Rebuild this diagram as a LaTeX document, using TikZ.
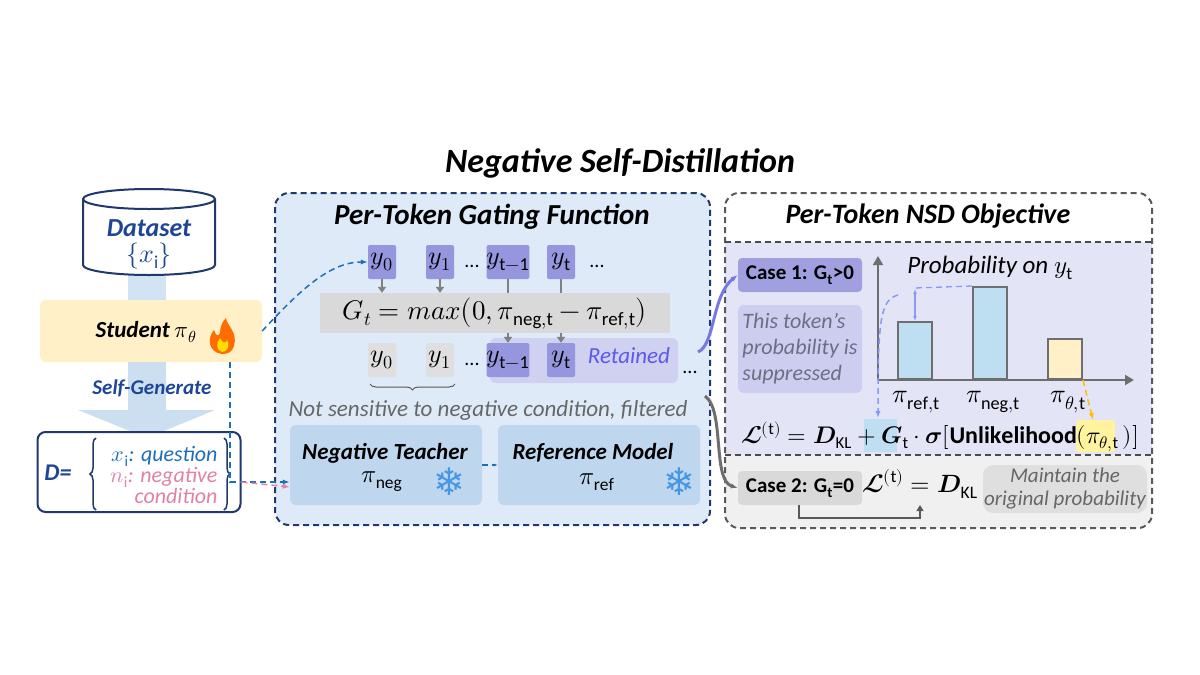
\documentclass[tikz,border=0pt]{standalone}
\usepackage{fontspec}
\usepackage{unicode-math}
\setmainfont{Carlito}
\setmathfont{Latin Modern Math}
\newfontfamily\symfont{DejaVu Sans}
\usetikzlibrary{calc, shapes.geometric, positioning, arrows.meta, decorations.pathreplacing}
\definecolor{DeepNavy}{RGB}{31, 56, 110}
\definecolor{TextBlue}{RGB}{30, 70, 150}
\definecolor{PanelBlue}{RGB}{222, 234, 247}
\definecolor{BoxBlue}{RGB}{190, 215, 238}
\definecolor{TokPurple}{RGB}{150, 150, 222}
\definecolor{PaleLilac}{RGB}{228, 228, 247}
\definecolor{SoftLilac}{RGB}{205, 205, 240}
\definecolor{ButterCream}{RGB}{255, 240, 200}
\definecolor{DashBlue}{RGB}{30, 110, 190}
\definecolor{RosePink}{RGB}{226, 130, 160}
\definecolor{BarBlue}{RGB}{190, 222, 242}
\definecolor{IceBlue}{RGB}{70, 150, 230}
\definecolor{SlateGray}{RGB}{110, 110, 110}

\tikzset{
    fs/.style={font=\fontsize{#1}{#1}\selectfont},
    bfi/.style={font=\bfseries\itshape\fontsize{#1}{#1}\selectfont},
    tok/.style={draw=none, fill=TokPurple, rounded corners=2pt, minimum width=28, minimum height=34, inner sep=0pt, fs=26},
    gtok/.style={tok, fill=gray!25},
    model/.style={fill=BoxBlue, rounded corners=6pt, minimum width=192, minimum height=80, inner sep=0pt},
    case/.style={rounded corners=4pt, minimum width=124, minimum height=34, inner sep=0pt, font=\bfseries\fontsize{21}{21}\selectfont},
    bar/.style={draw=SlateGray, line width=2pt},
    dsh/.style={dash pattern=on 6pt off 4pt},
    link/.style={-{Latex[length=7pt]}, line width=1.5pt},
}

\begin{document}
\begin{tikzpicture}[x=1pt, y=-1pt]
    \useasboundingbox (0,0) rectangle (1200,675);

    % Titulo general
    \node[bfi=34] (title) at (620,163) {Negative Self-Distillation};

    % Columna izquierda: dataset, estudiante y D
    \fill[BoxBlue!70] (128,268) rectangle (166,300);
    \draw[DeepNavy, line width=2pt, fill=white] (83,199) -- (83,265) arc[start angle=180, end angle=0, x radius=66, y radius=10]
        -- (215,199) arc[start angle=0, end angle=-180, x radius=66, y radius=10] -- cycle;
    \draw[DeepNavy, line width=2pt] (83,199) arc[start angle=180, end angle=0, x radius=66, y radius=10];
    \node[text=TextBlue, bfi=26] (dsname) at (149,228) {Dataset};
    \node[text=TextBlue, fs=26] (dsset) at (149,256) {$\{x_{\mathrm{i}}\}$};

    \node[fill=ButterCream, rounded corners=6pt, minimum width=222, minimum height=62] (student) at (151,331) {};
    \node[bfi=23] (stname) at (146,332) {Student $\pi_\theta$};
    % llama
    \fill[orange!85!red] (222,354) .. controls (208,352) and (207,338) .. (214,330)
        .. controls (216,336) and (218,337) .. (220,333) .. controls (220,326) and (223,321) .. (226,318)
        .. controls (227,326) and (238,332) .. (234,346) .. controls (232,352) and (228,354) .. (222,354) -- cycle;
    \fill[yellow!80!orange] (222,352) .. controls (216,350) and (216,343) .. (220,338)
        .. controls (222,343) and (226,344) .. (227,340) .. controls (230,345) and (228,352) .. (222,352) -- cycle;

    % flecha gruesa de auto-generacion
    \fill[BoxBlue!80] (128,362) -- (166,362) -- (166,410) -- (215,410) -- (147,438) -- (78,410) -- (128,410) -- cycle;
    \node[text=TextBlue, bfi=21] (selfgen) at (152,388) {Self-Generate};

    \node[draw=DeepNavy, line width=2pt, fill=white, rounded corners=8pt, minimum width=203, minimum height=80] (dbox) at (139,472) {};
    \node[text=TextBlue, bfi=24] (dlabel) at (58,473) {D=};
    \node[font=\itshape\fontsize{22}{21}\selectfont, align=right, inner sep=0pt] (ditems) at (164,475)
        {\textcolor{DashBlue}{$x_{\mathrm{i}}$: question}\\\textcolor{RosePink}{$n_{\mathrm{i}}$: negative}\\\textcolor{RosePink}{condition}};
    \draw[DeepNavy, line width=1.5pt, decorate, decoration={brace, amplitude=6pt}] (96,510) -- (96,438);
    \draw[DeepNavy, line width=1.5pt, decorate, decoration={brace, amplitude=6pt}] (224,438) -- (224,510);

    % Panel central: funcion de compuerta
    \draw[DeepNavy, dsh, line width=2pt, fill=PanelBlue, rounded corners=14pt] (275,193) rectangle (710,525);
    \node[bfi=29] (gtitle) at (492,217) {Per-Token Gating Function};

    \node[tok] (a0) at (382,262) {$y_0$};
    \node[tok] (a1) at (440,262) {$y_1$};
    \node[fs=20] (ad1) at (472,266) {...};
    \node[tok, minimum width=36] (a2) at (508,262) {$y_{\mathrm{t-1}}$};
    \node[tok] (a3) at (561,262) {$y_{\mathrm{t}}$};
    \node[fs=20] (ad2) at (597,266) {...};

    \node[fill=gray!30, minimum width=350, minimum height=40, inner sep=0pt, fs=27] (gate) at (495,313)
        {$G_t=max\bigl(0,\pi_{\mathrm{neg,t}}-\pi_{\mathrm{ref,t}}\bigr)$};

    \fill[TokPurple!45, rounded corners=6pt] (490,338) rectangle (678,383);
    \node[gtok] (b0) at (382,360) {$y_0$};
    \node[gtok] (b1) at (440,360) {$y_1$};
    \node[fs=20] (bd1) at (472,364) {...};
    \node[tok, minimum width=36] (b2) at (508,360) {$y_{\mathrm{t-1}}$};
    \node[tok] (b3) at (561,360) {$y_{\mathrm{t}}$};
    \node[text=TokPurple!60!blue, font=\itshape\fontsize{23}{23}\selectfont] (retained) at (629,356) {Retained};
    \node[fs=20] (bd2) at (690,372) {...};

    \foreach \n in {a0,a1}
        \draw[-{Triangle[length=6pt]}, gray, line width=1.5pt] (\n.south) -- (gate.north -| \n);
    \foreach \n/\m in {a2/b2,a3/b3} {
        \draw[gray, line width=1.5pt] (\n.south) -- (gate.north -| \n);
        \draw[-{Triangle[length=6pt]}, gray, line width=1.5pt] (gate.south -| \m) -- (\m.north);
    }
    \draw[gray!70!black, line width=1pt, decorate, decoration={brace, mirror, amplitude=6pt}] (370,384) -- (455,384);
    \node[text=gray!80!black, font=\itshape\fontsize{23}{23}\selectfont] (filtered) at (488,410) {Not sensitive to negative condition, filtered};

    \node[model] (teacher) at (386,465) {};
    \node[bfi=23] (tname) at (385,453) {Negative Teacher};
    \node[fs=25] (tpi) at (382,482) {$\pi_{\mathrm{neg}}$};
    \node[text=IceBlue, font=\symfont\fontsize{38}{38}\selectfont] (tflake) at (449,482) {❄};
    \node[model, minimum width=202] (refmodel) at (599,465) {};
    \node[bfi=23] (rname) at (593,453) {Reference Model};
    \node[fs=25] (rpi) at (597,482) {$\pi_{\mathrm{ref}}$};
    \node[text=IceBlue, font=\symfont\fontsize{38}{38}\selectfont] (rflake) at (679,482) {❄};
    \draw[-{Latex[length=4pt]}, DashBlue, dsh, line width=1.2pt] (teacher.east) -- (refmodel.west);

    % conexiones del estudiante
    \coordinate (stdrop) at (230,362);
    \draw[link, DashBlue, dsh] (student.east) .. controls (300,290) and (330,262) .. (a0.west);
    \draw[link, DashBlue, dsh] (stdrop) |- ($(teacher.west)+(0,17)$);
    \draw[link, RosePink, dsh] ($(dbox.east)+(0,10)$) -- ($(teacher.west)+(0,22)$);

    % Panel derecho: objetivo NSD
    \begin{scope}
        \clip[rounded corners=14pt] (725,193) rectangle (1152,528);
        \fill[PaleLilac] (725,242) rectangle (1152,455);
        \fill[gray!12] (725,455) rectangle (1152,528);
    \end{scope}
    \draw[gray!70!black, dsh, line width=2pt, rounded corners=14pt] (725,193) rectangle (1152,528);
    \draw[black!70, dsh, line width=1.3pt] (725,242) -- (1152,242);
    \draw[black!70, dsh, line width=1.3pt] (725,455) -- (1152,455);
    \node[bfi=28] (otitle) at (928,216) {Per-Token NSD Objective};

    \node[case, fill=TokPurple!90] (case1) at (800,275) {Case 1: G\textsubscript{t}>0};
    \node[fill=SoftLilac, rounded corners=6pt, minimum width=124, minimum height=88, text=gray!60!TokPurple!80!black,
          align=left, inner sep=2pt, font=\itshape\fontsize{22}{26}\selectfont] (suppr) at (800,349) {This token's\\probability is\\suppressed};

    % grafica de barras
    \coordinate (orig) at (878,380);
    \draw[-{Triangle[length=9pt]}, SlateGray, line width=2pt] (orig) -- (878,256);
    \draw[-{Triangle[length=9pt]}, SlateGray, line width=2pt] (orig) -- (1134,380);
    \node[font=\itshape\fontsize{25}{25}\selectfont] (ptitle) at (990,268) {Probability on $y_{\mathrm{t}}$};
    \node[bar, fill=BarBlue, minimum width=34, minimum height=57, inner sep=0pt, anchor=south] (refbar) at (915,380) {};
    \node[bar, fill=BarBlue, minimum width=34, minimum height=92, inner sep=0pt, anchor=south] (negbar) at (990,380) {};
    \node[bar, fill=ButterCream, minimum width=34, minimum height=40, inner sep=0pt, anchor=south] (thbar) at (1065,380) {};
    \node[fs=26] (lref) at (916,402) {$\pi_{\mathrm{ref,t}}$};
    \node[fs=26] (lneg) at (993,402) {$\pi_{\mathrm{neg,t}}$};
    \node[fs=26] (lth) at (1068,402) {$\pi_{\theta\mathrm{,t}}$};
    \draw[BarBlue!70!blue, dsh, line width=1.3pt] (negbar.north west) -- (915,288);
    \draw[{Latex[length=5pt]}-{Latex[length=5pt]}, BarBlue!70!blue, line width=1.3pt] (915,289) -- (refbar.north);

    % formula del caso 1
    \fill[BarBlue] (864,419) rectangle (897,452);
    \fill[ButterCream!80!yellow, rounded corners=3pt] (1076,420) rectangle (1115,452);
    \node[fs=24, inner sep=0pt] (loss1) at (940,437)
        {$\symbfcal{L}^{(\mathrm{t})}=\symbfit{D}_{\mathrm{KL}}+\symbfit{G}_{\mathrm{t}}\cdot\symbfit{\sigma}[\mathbf{Unlikelihood}(\pi_{\theta\mathrm{,t}}\,)]$};
    \draw[link, BarBlue!70!blue, dsh] (898,295) .. controls (880,300) and (878,320) .. (878,418);
    \draw[link, orange!50!yellow, dsh] (thbar.south east) -- (1093,420);

    % caso 2
    \node[case, fill=gray!30] (case2) at (800,488) {Case 2: G\textsubscript{t}=0};
    \node[fs=25] (loss2) at (920,484) {$\symbfcal{L}^{(\mathrm{t})}=\symbfit{D}_{\mathrm{KL}}$};
    \node[fill=gray!25, rounded corners=10pt, minimum width=164, minimum height=48, inner sep=1pt, align=center, text=gray!80!black,
          font=\itshape\fontsize{21}{23}\selectfont] (maintain) at (1065,489) {Maintain the\\original probability};
    \draw[-{Triangle[length=6pt]}, gray!70!black, line width=1.2pt] (799,505) -- (799,518) -- (920,518) -- (920,505);

    % enlaces entre paneles
    \draw[link, TokPurple!80!blue, line width=3pt] (698,352) .. controls (715,345) and (712,295) .. (case1.west);
    \draw[link, SlateGray, line width=3pt] (705,396) .. controls (725,410) and (712,480) .. (case2.west);
\end{tikzpicture}
\end{document}
